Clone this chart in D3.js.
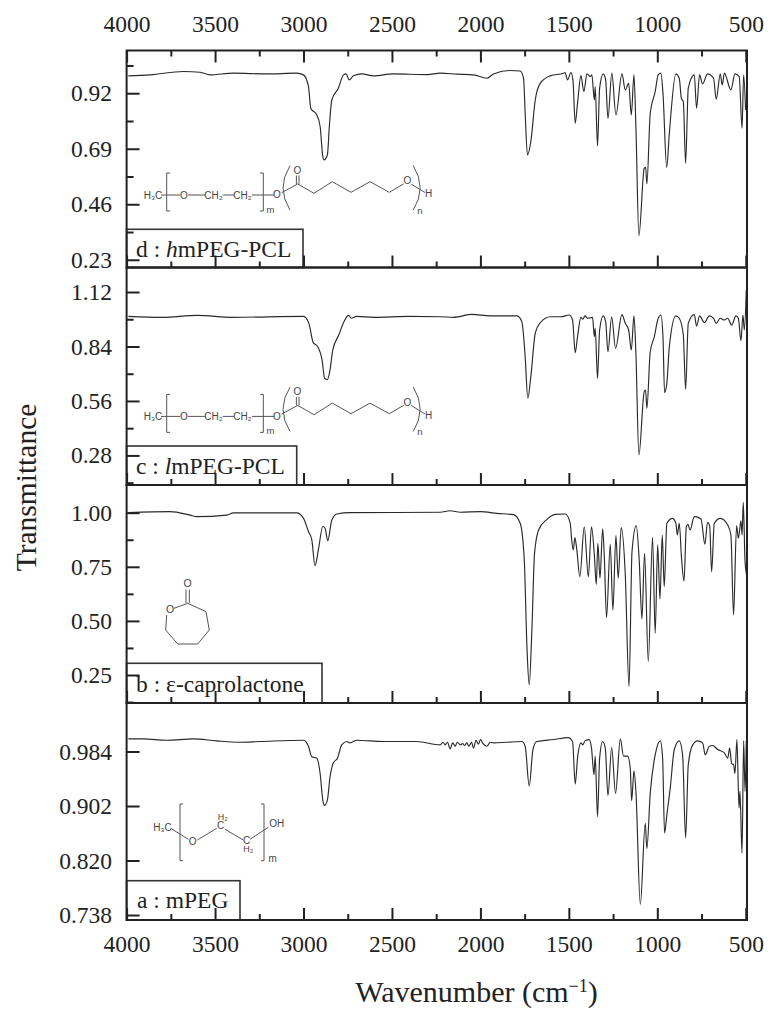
<!DOCTYPE html>
<html>
<head>
<meta charset="utf-8">
<script src="https://cdn.jsdelivr.net/npm/d3@7"></script>
<style>
html, body { margin: 0; padding: 0; background: #fff; }
svg { display: block; }
text { font-family: "Liberation Serif", serif; fill: #222; }
.chem text { font-family: "Liberation Sans", sans-serif; fill: #444; }
</style>
</head>
<body>
<svg id="chart" width="779" height="1022"></svg>
<script>
// wavenumber ticks
var xMajor = [4000, 3500, 3000, 2500, 2000, 1500, 1000, 500];
var xMinor = [3750, 3250, 2750, 2250, 1750, 1250, 750];

// [wavenumber, transmittance]
var specD = [[3990,.992],[3868,.996],[3679,1.010],[3585,1.007],[3528,.996],[3396,1.003],[3208,1.000],[3038,1.003],[3000,.996],[2972,.948],
    [2959,.858],[2925,.830],[2906,.782],[2891,.658],[2884,.644],[2865,.664],[2854,.782],[2840,.892],[2803,.941],[2774,.996],
    [2759,1.000],[2742,.975],[2718,.992],[2671,1.000],[2605,.992],[2492,1.000],[2300,.997],[2227,1.003],[2133,.999],[2039,.996],
    [1963,.982],[1926,1.000],[1832,1.014],[1775,1.012],[1756,.982],[1747,.837],[1734,.664],[1715,.720],[1690,.892],[1662,.961],
    [1605,.992],[1530,1.003],[1522,1.006],[1507,.975],[1488,1.006],[1477,.975],[1464,.796],[1451,.878],[1432,.993],[1415,.927],
    [1398,1.000],[1379,.989],[1370,.996],[1356,.892],[1351,.948],[1338,.702],[1326,.941],[1306,1.000],[1292,.975],[1279,.816],
    [1257,1.003],[1234,.830],[1200,1.000],[1181,.934],[1162,.961],[1147,.830],[1132,.996],[1121,.782],[1104,.329],[1074,.609],
    [1066,.613],[1059,.544],[1040,.837],[1012,.927],[995,.996],[980,1.003],[968,.920],[947,.613],[932,.754],[895,1.000],
    [876,.982],[864,.899],[853,.885],[840,.630],[825,.941],[791,.996],[778,.858],[761,.996],[744,.959],[716,1.000],
    [682,.982],[667,.895],[644,1.000],[633,.954],[621,1.003],[584,.934],[561,1.000],[537,.989],[521,.775],[512,.996],[501,.851]];

var specC = [[3990,.995],[3800,.990],[3600,1.000],[3400,.990],[3000,.995],[2970,.960],[2945,.860],[2920,.840],[2895,.770],[2880,.675],
    [2865,.670],[2850,.720],[2835,.820],[2800,.900],[2770,.970],[2745,1.000],[2730,.985],[2700,.995],[2600,.990],[2400,.995],
    [2227,.993],[2152,.990],[2048,1.005],[1945,.997],[1794,.997],[1766,.968],[1747,.788],[1732,.574],[1715,.685],[1690,.908],
    [1662,.962],[1605,.993],[1545,.993],[1498,1.002],[1479,.976],[1464,.808],[1451,.890],[1432,.990],[1421,.980],[1409,.997],
    [1394,.985],[1366,.990],[1356,.890],[1351,.933],[1338,.676],[1326,.925],[1306,.997],[1292,.968],[1279,.813],[1258,.993],
    [1236,.830],[1200,1.004],[1181,.959],[1162,.925],[1147,.822],[1132,.997],[1121,.805],[1104,.282],[1074,.608],[1066,.616],
    [1059,.522],[1040,.813],[1017,.890],[995,.985],[980,1.002],[968,.890],[959,.603],[946,.651],[932,.839],[895,.997],
    [876,.985],[853,.899],[840,.620],[825,.959],[791,1.004],[778,.945],[761,.997],[734,.962],[706,.997],[682,.985],
    [667,.959],[644,.985],[621,.976],[602,.985],[580,.950],[555,.997],[542,.985],[527,.870],[516,1.002],[508,.925],[497,1.130]];

var specB = [[3990,1.000],[3755,1.005],[3641,.989],[3604,.982],[3434,.989],[3396,.999],[3038,.999],[3000,.974],[2972,.913],[2953,.874],
    [2935,.755],[2916,.828],[2891,.936],[2878,.928],[2863,.871],[2840,.966],[2812,.994],[2737,1.000],[2228,1.002],[2171,1.009],
    [2114,1.002],[2001,1.005],[1907,.997],[1813,.991],[1775,.951],[1752,.781],[1737,.381],[1724,.204],[1709,.458],[1694,.812],
    [1671,.920],[1624,.969],[1577,.992],[1520,.994],[1492,.951],[1485,.882],[1475,.828],[1466,.885],[1455,.828],[1438,.704],
    [1413,.935],[1390,.704],[1372,.935],[1356,.805],[1345,.669],[1336,.859],[1324,.697],[1309,.925],[1300,.805],[1287,.515],
    [1266,.854],[1251,.550],[1234,.894],[1221,.697],[1204,.931],[1181,.712],[1160,.196],[1143,.820],[1119,.940],[1102,.774],
    [1087,.509],[1072,.812],[1051,.312],[1027,.886],[1012,.443],[998,.851],[985,.601],[972,.897],[961,.658],[946,.951],
    [914,.974],[895,.951],[887,.897],[876,.951],[863,.789],[849,.684],[836,.935],[827,.946],[815,.920],[791,.982],
    [753,.971],[731,.854],[716,.956],[704,.940],[693,.727],[678,.951],[644,.974],[602,.943],[584,.897],[569,.527],
    [552,.940],[542,.882],[527,.962],[521,.897],[514,1.048],[504,.774],[493,.704]];

var specA = [[3990,1.003],[3905,1.003],[3773,1.001],[3622,1.003],[3491,1.000],[3359,.998],[3246,.999],[3000,1.001],[2972,.992],[2953,.976],
    [2925,.974],[2906,.951],[2891,.911],[2882,.903],[2865,.911],[2850,.946],[2831,.967],[2808,.974],[2784,.994],[2755,.999],
    [2737,.997],[2699,1.001],[2548,.999],[2360,.999],[2227,.994],[2212,.998],[2199,.994],[2186,.998],[2171,.988],[2157,.997],
    [2143,.992],[2130,.998],[2114,.994],[2100,.996],[2090,.993],[2077,.997],[2065,.992],[2050,.998],[2039,.989],[2025,1.001],
    [2011,.995],[2000,1.002],[1985,.996],[1963,.992],[1945,.998],[1926,.997],[1850,.998],[1766,.999],[1747,.992],[1724,.932],
    [1703,.987],[1681,.999],[1587,1.002],[1504,1.005],[1479,.999],[1464,.935],[1451,.974],[1432,.997],[1421,.994],[1409,1.000],
    [1385,1.002],[1372,.989],[1358,.949],[1351,.977],[1338,.886],[1326,.974],[1309,.999],[1294,.989],[1279,.918],[1258,.990],
    [1236,.921],[1209,1.003],[1191,.977],[1168,.977],[1153,.959],[1145,.910],[1132,.955],[1121,.924],[1096,.754],[1068,.876],
    [1059,.838],[1040,.921],[1012,.979],[983,1.000],[970,.974],[959,.861],[946,.889],[927,.929],[904,.987],[876,1.000],
    [857,.979],[840,.854],[825,.964],[800,.994],[772,1.000],[744,.997],[729,.979],[706,.992],[687,.993],[659,.987],
    [621,.982],[602,.974],[591,.989],[580,.966],[569,.964],[561,.951],[550,1.002],[538,.899],[533,.924],[521,.831],
    [512,1.000],[504,.924],[497,1.000]];

// y ticks of each panel
var ticksD = [.92, .69, .46, .23], minorD = [1.035, .805, .575, .345];
var ticksC = [1.12, .84, .56, .28], minorC = [.98, .70, .42, .14];
var ticksB = [1.00, .75, .50, .25], minorB = [.875, .625, .375, .125];
var ticksA = [.984, .902, .820, .738], minorA = [];

var svg = d3.select("#chart");
var xScale = d3.scaleLinear().domain([4000, 493]).range([126.6, 747]);
var left = 126.6, right = 747;
var ink = "#222";

var panels = [
    { spec: specD, ticks: ticksD, minor: minorD, fmt: ".2f", top: 50.5, bottom: 267.5, dom: [.198, 1.097] },
    { spec: specC, ticks: ticksC, minor: minorC, fmt: ".2f", top: 267.5, bottom: 485, dom: [.128, 1.246] },
    { spec: specB, ticks: ticksB, minor: minorB, fmt: ".2f", top: 485, bottom: 703, dom: [.1206, 1.128] },
    { spec: specA, ticks: ticksA, minor: minorA, fmt: ".3f", top: 703, bottom: 920, dom: [.7305, 1.057] }
];

function styleAxis(g) {
    g.select(".domain").remove();
    g.selectAll("line").attr("stroke", ink).attr("stroke-width", 2);
    g.selectAll("text").attr("font-size", 23.5).style("fill", ink);
}

// white label boxes go under the ticks, the ticks show through in the original
var boxes = [
    { name: "d", top: 229.3, bottom: 267.5, right: 303 },
    { name: "c", top: 446, bottom: 485, right: 296.7 },
    { name: "b", top: 663.3, bottom: 703, right: 322 },
    { name: "a", top: 880.7, bottom: 920, right: 240 }
];
boxes.forEach(function (b) {
    svg.append("rect")
        .attr("x", left).attr("y", b.top)
        .attr("width", b.right - left).attr("height", b.bottom - b.top)
        .attr("fill", "#fff").attr("stroke", "#333").attr("stroke-width", 1.6);
});

panels.forEach(function (p, idx) {
    var y = d3.scaleLinear().domain(p.dom).range([p.bottom, p.top]);

    var line = d3.line()
        .x(function (d) { return xScale(d[0]); })
        .y(function (d) { return y(d[1]); })
        .curve(d3.curveMonotoneX);

    svg.append("path")
        .datum(p.spec)
        .attr("d", line)
        .attr("fill", "none")
        .attr("stroke", "#2a2a2a")
        .attr("stroke-width", 1.15);

    // y axis, ticks pointing inwards
    svg.append("g")
        .attr("transform", "translate(" + left + ",0)")
        .call(d3.axisRight(y).tickValues(p.ticks).tickSize(13).tickFormat(d3.format(p.fmt)))
        .call(styleAxis)
        .selectAll("text")
        .attr("text-anchor", "end")
        .attr("x", -14.5);
    svg.append("g")
        .attr("transform", "translate(" + left + ",0)")
        .call(d3.axisRight(y).tickValues(p.minor).tickSize(7).tickFormat(""))
        .call(styleAxis);

    // bottom x ticks of the panel
    var bottomAxis = svg.append("g")
        .attr("transform", "translate(0," + p.bottom + ")")
        .call(d3.axisTop(xScale).tickValues(xMajor).tickSize(12).tickFormat(idx == 3 ? d3.format("d") : ""))
        .call(styleAxis);
    bottomAxis.selectAll("text").attr("y", 32).attr("dy", 0);
    svg.append("g")
        .attr("transform", "translate(0," + p.bottom + ")")
        .call(d3.axisTop(xScale).tickValues(xMinor).tickSize(6).tickFormat(""))
        .call(styleAxis);

    // panel frame
    svg.append("rect")
        .attr("x", left).attr("y", p.top)
        .attr("width", right - left).attr("height", p.bottom - p.top)
        .attr("fill", "none").attr("stroke", ink).attr("stroke-width", 2);
});

// top axis
var topAxis = svg.append("g")
    .attr("transform", "translate(0,50.5)")
    .call(d3.axisBottom(xScale).tickValues(xMajor).tickSize(12).tickFormat(d3.format("d")))
    .call(styleAxis);
topAxis.selectAll("text").attr("y", -18.5).attr("dy", 0);
svg.append("g")
    .attr("transform", "translate(0,50.5)")
    .call(d3.axisBottom(xScale).tickValues(xMinor).tickSize(6).tickFormat(""))
    .call(styleAxis);

// panel labels
function label(x, y, parts) {
    var t = svg.append("text").attr("x", x).attr("y", y).attr("font-size", 23.5);
    parts.forEach(function (s) {
        t.append("tspan").text(s[0]).attr("font-style", s[1] ? "italic" : "normal");
    });
}
label(136, 257, [["d : "], ["h", true], ["mPEG-PCL"]]);
label(136, 474, [["c : "], ["l", true], ["mPEG-PCL"]]);
label(136, 692, [["b : ε-caprolactone"]]);
label(137, 908, [["a : mPEG"]]);

// axis titles
svg.append("text")
    .attr("transform", "translate(36,487.5) rotate(-90)")
    .attr("text-anchor", "middle")
    .attr("font-size", 29.5)
    .text("Transmittance");
var xt = svg.append("text")
    .attr("x", 476.5).attr("y", 1002)
    .attr("text-anchor", "middle")
    .attr("font-size", 30);
xt.append("tspan").text("Wavenumber (cm");
xt.append("tspan").text("−1").attr("font-size", 18).attr("dy", -10);
xt.append("tspan").text(")").attr("dy", 10);

// chemical structures
function seg(g, pts) {
    g.append("path")
        .attr("d", d3.line()(pts))
        .attr("fill", "none")
        .attr("stroke", "#555")
        .attr("stroke-width", 1);
}
function chemText(g, x, y, s, size, anchor) {
    g.append("text")
        .attr("x", x).attr("y", y)
        .attr("font-size", size || 10)
        .attr("text-anchor", anchor || "middle")
        .attr("dominant-baseline", "middle")
        .text(s);
}
function pegPcl(dy) {
    var g = svg.append("g").attr("class", "chem").attr("transform", "translate(0," + dy + ")");
    chemText(g, 153, 196, "H₃C", 10);
    seg(g, [[161, 195], [180, 195]]);
    seg(g, [[170, 173], [166.7, 173], [166.7, 211], [170, 211]]);
    chemText(g, 184, 196, "O", 10);
    seg(g, [[188, 195], [205, 195]]);
    chemText(g, 213.5, 196, "CH₂", 10);
    seg(g, [[222.7, 195], [234, 195]]);
    chemText(g, 242.5, 196, "CH₂", 10);
    seg(g, [[252, 195], [274, 195]]);
    seg(g, [[260, 173], [263.3, 173], [263.3, 211], [260, 211]]);
    chemText(g, 270.5, 210, "m", 9.5);
    chemText(g, 277, 195.5, "O", 10);
    g.append("path")
        .attr("d", "M290,165.7 Q276,188 290,210")
        .attr("fill", "none").attr("stroke", "#555");
    seg(g, [[281.5, 192.7], [297.7, 184], [314, 193.3], [332.3, 181.7], [351, 192.3], [370, 181.7], [389.3, 192.3], [403.5, 184]]);
    seg(g, [[296.4, 175.5], [296.4, 184]]);
    seg(g, [[299, 175.5], [299, 184]]);
    chemText(g, 297.5, 171, "O", 10);
    chemText(g, 407.3, 181.7, "O", 10);
    seg(g, [[411, 184], [425, 192.5]]);
    chemText(g, 428.5, 194.5, "H", 10);
    g.append("path")
        .attr("d", "M413.3,165.7 Q427,188 413.3,210")
        .attr("fill", "none").attr("stroke", "#555");
    chemText(g, 420, 211, "n", 9.5);
}
pegPcl(0);
pegPcl(221.4);

// caprolactone ring
var ring = svg.append("g").attr("class", "chem");
chemText(ring, 187.7, 584, "O", 10.5);
chemText(ring, 170, 610.7, "O", 10.5);
seg(ring, [[186, 589.5], [186, 603]]);
seg(ring, [[189.3, 589.5], [189.3, 603]]);
seg(ring, [[174, 608.3], [187.7, 603.3], [206, 611.7], [209.3, 630], [197.7, 644], [177.7, 644], [165.7, 630], [166.7, 615]]);

// mPEG
var peg = svg.append("g").attr("class", "chem");
chemText(peg, 162.5, 828.5, "H₃C", 10);
seg(peg, [[170.7, 828.3], [188.3, 839.3]]);
chemText(peg, 192.7, 842.7, "O", 10);
seg(peg, [[197.3, 840], [216.7, 828.3]]);
chemText(peg, 220.7, 826.7, "C", 10);
chemText(peg, 222.7, 817.3, "H₂", 9);
seg(peg, [[225, 829.3], [243.3, 840]]);
chemText(peg, 246.7, 841.7, "C", 10);
chemText(peg, 248.3, 850, "H₂", 9);
seg(peg, [[250, 839.3], [268.3, 827.3]]);
chemText(peg, 276.7, 824, "OH", 10);
seg(peg, [[183, 804], [180, 804], [180, 860.7], [183, 860.7]]);
seg(peg, [[261, 804], [264, 804], [264, 860.7], [261, 860.7]]);
chemText(peg, 272.7, 859, "m", 10);
</script>
</body>
</html>
